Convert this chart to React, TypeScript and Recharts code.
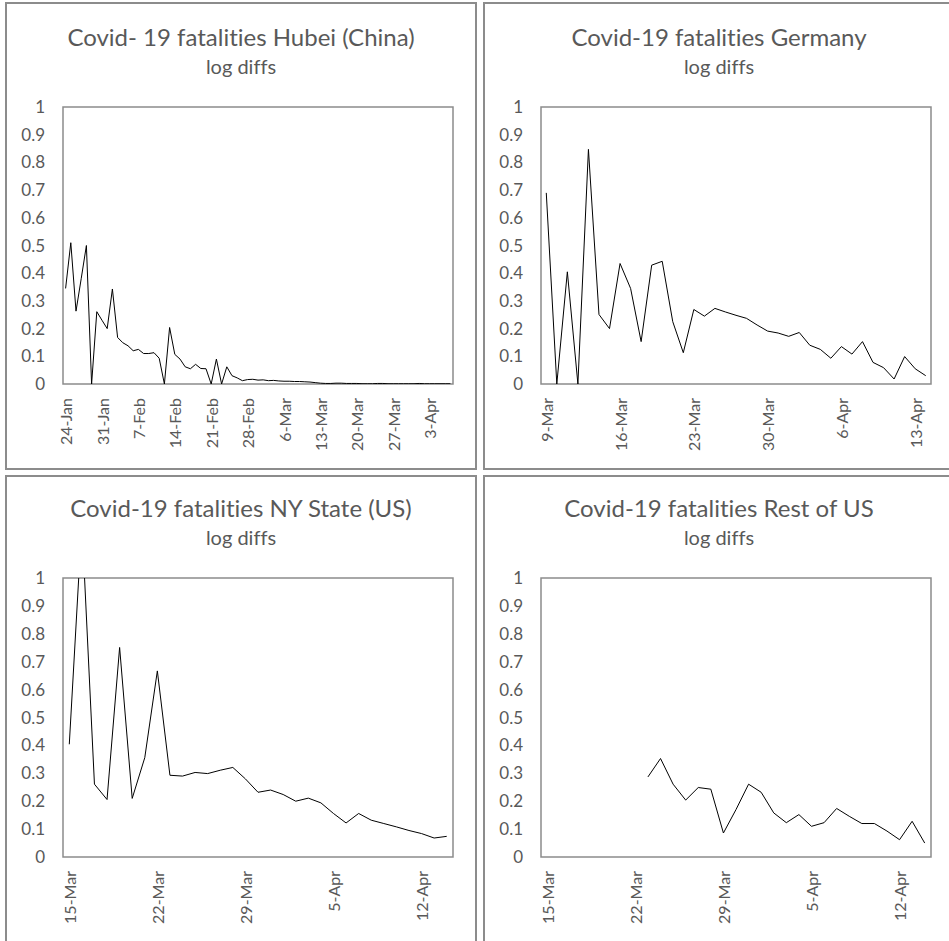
import { LineChart, Line, XAxis, YAxis, ReferenceArea } from 'recharts';

// daily log differences of cumulative fatalities
const hubeiTickLabels = ['24-Jan', '31-Jan', '7-Feb', '14-Feb', '21-Feb', '28-Feb', '6-Mar', '13-Mar', '20-Mar', '27-Mar', '3-Apr'];
const hubeiValues = [
  0.345, 0.51, 0.263, 0.38, 0.5, 0, 0.261,
  0.23, 0.2, 0.343, 0.168, 0.149, 0.138, 0.12,
  0.125, 0.11, 0.11, 0.113, 0.093, 0, 0.204,
  0.107, 0.09, 0.062, 0.055, 0.071, 0.056, 0.055,
  0, 0.09, 0, 0.062, 0.03, 0.022, 0.012,
  0.016, 0.017, 0.014, 0.015, 0.012, 0.013, 0.011,
  0.01, 0.01, 0.009, 0.009, 0.008, 0.007, 0.005,
  0.003, 0.002, 0.002, 0.003, 0.003, 0.002, 0.002,
  0.002, 0.001, 0.001, 0.001, 0.002, 0.002, 0.001,
  0.001, 0.001, 0.001, 0.001, 0.001, 0.002, 0.001,
  0.001, 0.001, 0.001, 0.001, 0.001,
];

const germanyTickLabels = ['9-Mar', '16-Mar', '23-Mar', '30-Mar', '6-Apr', '13-Apr'];
const germanyValues = [
  0.69, 0, 0.405, 0, 0.847, 0.251, 0.2,
  0.435, 0.345, 0.153, 0.429, 0.443, 0.225, 0.113,
  0.269, 0.245, 0.273, 0.26, 0.248, 0.237, 0.213,
  0.191, 0.184, 0.172, 0.186, 0.14, 0.125, 0.093,
  0.135, 0.108, 0.153, 0.078, 0.059, 0.018, 0.099,
  0.055, 0.03,
];

const usTickLabels = ['15-Mar', '22-Mar', '29-Mar', '5-Apr', '12-Apr'];
const nyValues = [
  0.404, 1.2, 0.261, 0.206, 0.751, 0.21, 0.356,
  0.667, 0.293, 0.29, 0.303, 0.299, 0.311, 0.321,
  0.28, 0.232, 0.24, 0.224, 0.2, 0.211, 0.194,
  0.156, 0.122, 0.156, 0.132, 0.12, 0.108, 0.095,
  0.084, 0.068, 0.074,
];
const restUsValues = [
  null, null, null, null, null, null, null,
  null, 0.287, 0.353, 0.261, 0.204, 0.249, 0.243,
  0.086, 0.17, 0.261, 0.232, 0.158, 0.123, 0.152,
  0.11, 0.123, 0.174, 0.146, 0.12, 0.12, 0.093,
  0.062, 0.128, 0.05,
];

const yTicks = [0, 0.1, 0.2, 0.3, 0.4, 0.5, 0.6, 0.7, 0.8, 0.9, 1];

const FONT = 'Lato, "Open Sans", sans-serif';
const TEXT = '#595959';
const noLig = { fontVariantLigatures: 'none' } as any;

const DateTick = ({ x, y, payload, labels }: any) => (
  <text
    x={x}
    y={y + 6}
    transform={`rotate(-90, ${x}, ${y + 6})`}
    textAnchor="end"
    dominantBaseline="central"
    fill={TEXT}
    fontSize={16}
    fontFamily={FONT}
  >
    {labels[Math.round(payload.value / 7)]}
  </text>
);

function Panel({ left, top, title, values, tickLabels, plotTop }: any) {
  const data = values.map((v: number | null, i: number) => ({ i, v }));
  const n = values.length;
  return (
    <div style={{ position: 'absolute', left, top, width: 472, height: 468 }}>
      <div
        style={{
          position: 'absolute',
          inset: 0,
          border: '2px solid #8c8c8c',
          boxSizing: 'border-box',
        }}
      />
      <svg width={472} height={100} style={{ position: 'absolute', left: 0, top: 0, ...noLig }}>
        <text x={236} y={plotTop - 60} textAnchor="middle" fill={TEXT} fontSize={24} fontFamily={FONT}>
          {title}
        </text>
        <text x={236} y={plotTop - 32} textAnchor="middle" fill={TEXT} fontSize={20} fontFamily={FONT}>
          log diffs
        </text>
      </svg>
      <div style={{ position: 'absolute', left: 1, top: 1 }}>
        <LineChart width={470} height={466} data={data} margin={{ top: plotTop, right: 23, bottom: 0, left: 0 }}>
          <XAxis
            dataKey="i"
            type="number"
            domain={[-0.5, n - 0.5]}
            ticks={tickLabels.map((_: string, k: number) => k * 7)}
            interval={0}
            allowDataOverflow
            axisLine={false}
            tickLine={false}
            height={85}
            tick={<DateTick labels={tickLabels} />}
          />
          <YAxis
            type="number"
            domain={[0, 1]}
            ticks={yTicks}
            interval={0}
            allowDataOverflow
            axisLine={false}
            tickLine={false}
            tickMargin={12}
            width={57}
            tick={{ fill: TEXT, fontSize: 17, fontFamily: FONT }}
          />
          <ReferenceArea
            x1={-0.5}
            x2={n - 0.5}
            y1={0}
            y2={1}
            fill="none"
            stroke="#8c8c8c"
            strokeWidth={1.5}
            ifOverflow="visible"
          />
          <Line
            dataKey="v"
            type="linear"
            stroke="#000"
            strokeWidth={1}
            dot={false}
            connectNulls={false}
            isAnimationActive={false}
          />
        </LineChart>
      </div>
    </div>
  );
}

export default function App() {
  return (
    <div
      style={{
        position: 'absolute',
        left: 0,
        top: 0,
        width: 949,
        height: 941,
        overflow: 'hidden',
        background: '#fff',
      }}
    >
      <Panel left={5} top={2} title="Covid- 19 fatalities Hubei (China)" values={hubeiValues} tickLabels={hubeiTickLabels} plotTop={104} />
      <Panel left={483} top={2} title="Covid-19 fatalities Germany" values={germanyValues} tickLabels={germanyTickLabels} plotTop={104} />
      <Panel left={5} top={475} title="Covid-19 fatalities NY State (US)" values={nyValues} tickLabels={usTickLabels} plotTop={102} />
      <Panel left={483} top={475} title="Covid-19 fatalities Rest of US" values={restUsValues} tickLabels={usTickLabels} plotTop={102} />
    </div>
  );
}
